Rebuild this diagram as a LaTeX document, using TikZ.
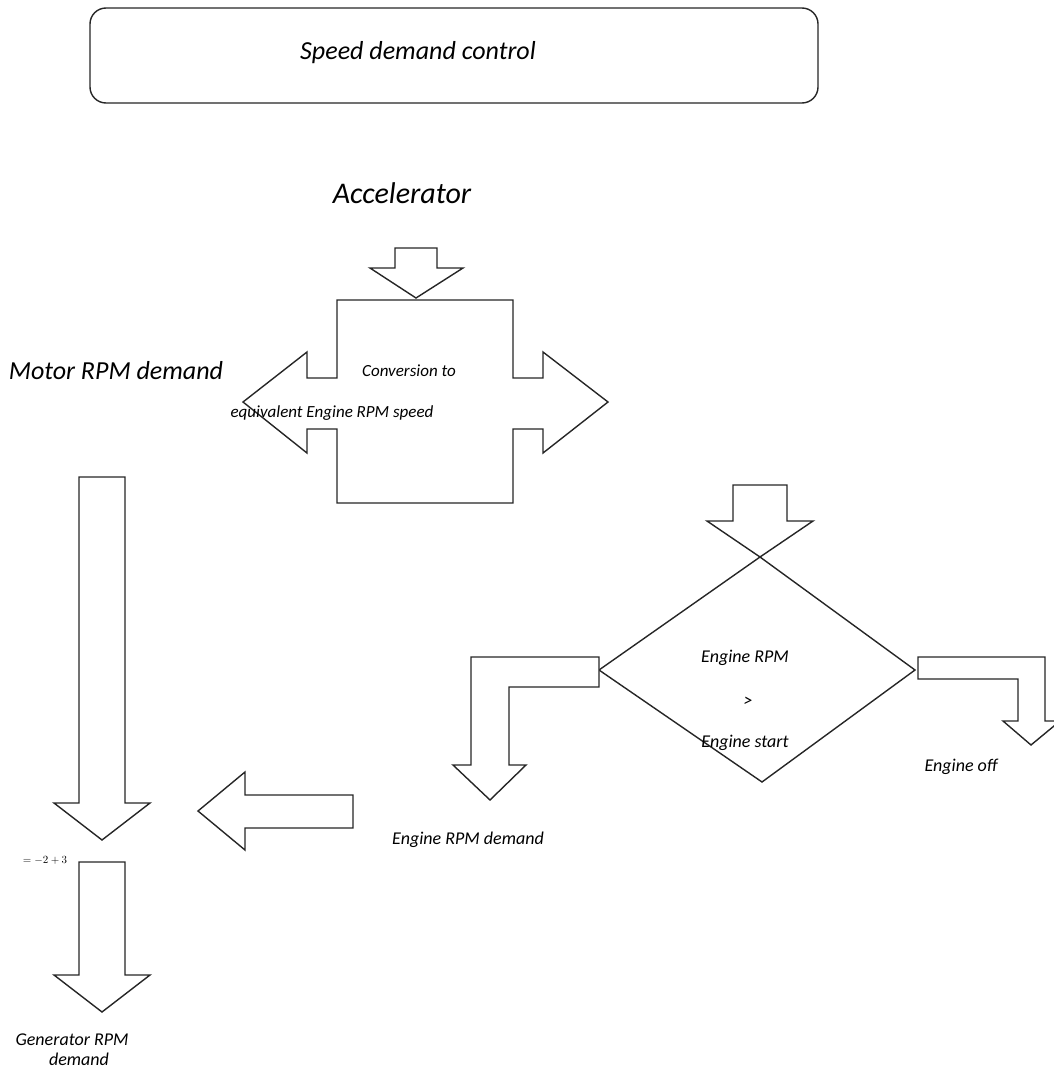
\documentclass[tikz,border=0pt]{standalone}
\usepackage{fontspec}
\setmainfont{Carlito}
\begin{document}
\begin{tikzpicture}[x=1pt,y=-1pt,
  blk/.style={draw=black!85,line width=1.4pt,line join=miter,fill=white},
  lbl/.style={inner sep=0pt,font=\fontsize{18}{20}\selectfont\itshape},
  big/.style={inner sep=0pt,font=\fontsize{26}{29}\selectfont\itshape}]
\useasboundingbox (0,0) rectangle (1054,1071);

% title box
\draw[blk,rounded corners=16pt] (90,8) rectangle (818,103);
\node[big] (title) at (418,53) {Speed demand control};

% accelerator input
\node[inner sep=0pt,font=\fontsize{30}{33}\selectfont\itshape] (acc) at (402,193) {Accelerator};
\draw[blk] (395,248) -- (437,248) -- (437,268) -- (463,268) -- (416,298)
  -- (370,268) -- (395,268) -- cycle;

% conversion block with outputs to both sides
\draw[blk] (337,300) -- (513,300) -- (513,378) -- (543,378) -- (543,352)
  -- (608,402) -- (543,453) -- (543,429) -- (513,429) -- (513,503)
  -- (337,503) -- (337,429) -- (307,429) -- (307,453) -- (243,402)
  -- (307,352) -- (307,378) -- (337,378) -- cycle;
\node[lbl,font=\fontsize{17}{20}\selectfont\itshape] (conv1) at (409,371) {Conversion to};
\node[lbl,font=\fontsize{17}{20}\selectfont\itshape] (conv2) at (332,413) {equivalent Engine RPM speed};

% motor branch
\node[big] (motor) at (116,371) {Motor RPM demand};
\draw[blk] (79,477) -- (125,477) -- (125,803) -- (150,803) -- (102,840)
  -- (54,803) -- (79,803) -- cycle;

% generator output
\node[inner sep=0pt,font=\fontsize{11}{12}\selectfont] (sum) at (45,860) {$=-2+3$};
\draw[blk] (79,862) -- (125,862) -- (125,975) -- (150,975) -- (102,1012)
  -- (54,975) -- (79,975) -- cycle;
\node[lbl] (gen1) at (72,1040) {Generator RPM};
\node[lbl] (gen2) at (79,1059) {demand};

% engine demand feeding back to the sum
\draw[blk] (353,795) -- (353,828) -- (245,828) -- (245,850) -- (198,811)
  -- (245,772) -- (245,795) -- cycle;
\node[lbl] (engdem) at (468,840) {Engine RPM demand};

% engine start decision
\draw[blk] (733,485) -- (787,485) -- (787,521) -- (813,521) -- (760,557)
  -- (707,521) -- (733,521) -- cycle;
\draw[blk] (760,557) -- (915,670) -- (762,782) -- (599,670) -- cycle;
\node[lbl] (cond1) at (745,658) {Engine RPM};
\node[lbl] (cond2) at (748,702) {>};
\node[lbl] (cond3) at (745,743) {Engine start};

% yes branch
\draw[blk] (599,657) -- (599,687) -- (509,687) -- (509,765) -- (526,765)
  -- (490,800) -- (453,765) -- (471,765) -- (471,657) -- cycle;

% no branch
\draw[blk] (918,657) -- (1045,657) -- (1045,721) -- (1060,721) -- (1031,745)
  -- (1003,721) -- (1018,721) -- (1018,679) -- (918,679) -- cycle;
\node[lbl] (off) at (961,767) {Engine off};
\end{tikzpicture}
\end{document}
